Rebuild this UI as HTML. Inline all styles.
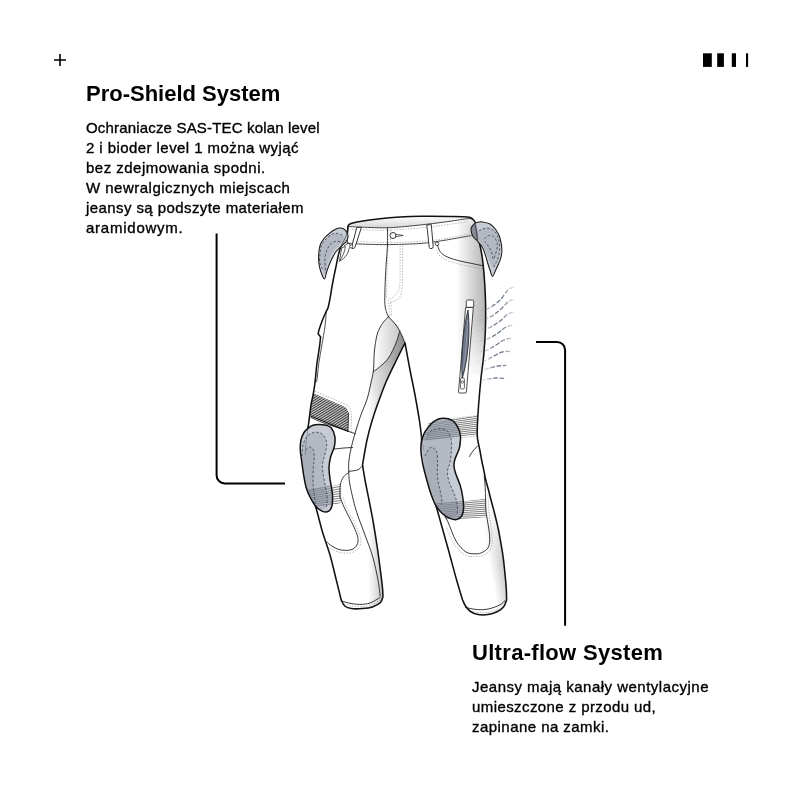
<!DOCTYPE html>
<html><head><meta charset="utf-8">
<style>
html,body{margin:0;padding:0;background:#fff;}
body{width:800px;height:800px;position:relative;overflow:hidden;font-family:"Liberation Sans",sans-serif;color:#000;}
.t{position:absolute;white-space:nowrap;will-change:transform;}
.h{font-weight:bold;font-size:22px;line-height:26px;}
.b{font-size:15px;line-height:19.9px;-webkit-text-stroke:0.35px #000;}
svg{position:absolute;left:0;top:0;}
</style></head><body>
<svg width="800" height="800" viewBox="0 0 800 800">
  <!-- plus -->
  <path d="M54 60H66M60 54V66" stroke="#000" stroke-width="1.6" fill="none"/>
  <!-- bars -->
  <rect x="703" y="53.3" width="8.8" height="13.6" fill="#000"/>
  <rect x="717.2" y="53.3" width="6.7" height="13.6" fill="#000"/>
  <rect x="731.8" y="53.3" width="4.2" height="13.6" fill="#000"/>
  <rect x="746" y="53.3" width="2.1" height="13.6" fill="#000"/>
  <defs><clipPath id="cSil"><path d="M347.8 226.5 C348.17 226.08 347.97 224.82 350 224 C352.03 223.18 355 222.47 360 221.6 C365 220.73 373.33 219.55 380 218.8 C386.67 218.05 393.33 217.52 400 217.1 C406.67 216.68 411.67 216.42 420 216.3 C428.33 216.18 442.08 216.3 450 216.4 C457.92 216.5 463.75 216.5 467.5 216.9 C471.25 217.3 471.15 217.78 472.5 218.8 C473.85 219.82 475.08 222.3 475.6 223 C475.92 225 476.6 230.5 477.5 235 C478.4 239.5 480.05 245 481 250 C481.95 255 482.57 259.17 483.2 265 C483.83 270.83 484.4 278.33 484.8 285 C485.2 291.67 485.5 297.5 485.6 305 C485.7 312.5 485.71 321.67 485.4 330 C485.09 338.33 484.48 347 483.75 355 C483.02 363 481.86 369.67 481 378 C480.14 386.33 479.2 397.17 478.6 405 C478 412.83 477.62 419.83 477.4 425 C477.18 430.17 477.15 433 477.3 436 C477.45 439 478.13 441.83 478.3 443 C478.58 444.33 479.45 448.17 480 451 C480.55 453.83 480.98 456.83 481.6 460 C482.23 463.17 483.06 466.67 483.75 470 C484.44 473.33 484.96 476.67 485.75 480 C486.54 483.33 487.62 486.67 488.5 490 C489.38 493.33 490.13 496.67 491 500 C491.87 503.33 492.83 506.67 493.7 510 C494.57 513.33 495.4 516.67 496.2 520 C497 523.33 497.78 526.5 498.5 530 C499.22 533.5 499.75 536.67 500.5 541 C501.25 545.33 502.28 550.83 503 556 C503.72 561.17 504.25 566.5 504.8 572 C505.35 577.5 506 584.33 506.3 589 C506.6 593.67 506.55 598.17 506.6 600 C506.08 601.17 505.1 605.03 503.5 607 C501.9 608.97 499.58 610.53 497 611.8 C494.42 613.07 491.17 614.13 488 614.6 C484.83 615.07 480.92 615.12 478 614.6 C475.08 614.08 472.58 612.93 470.5 611.5 C468.42 610.07 466.82 607.92 465.5 606 C464.18 604.08 463.08 601 462.6 600 C461.6 596.67 458.87 588 456.6 580 C454.33 572 451.43 560.83 449 552 C446.57 543.17 444.17 534.67 442 527 C439.83 519.33 438 512.17 436 506 C434 499.83 431.83 496 430 490 C428.17 484 426.33 476.67 425 470 C423.67 463.33 422.58 455.42 422 450 C421.42 444.58 421.87 442 421.5 437.5 C421.13 433 420.88 430.08 419.8 423 C418.72 415.92 416.63 403.83 415 395 C413.37 386.17 411.67 378.67 410 370 C408.33 361.33 405.83 347.5 405 343 C403.58 345.83 399.52 353.83 396.5 360 C393.48 366.17 389.8 373.33 386.9 380 C384 386.67 381.53 393.33 379.1 400 C376.67 406.67 374.32 413.33 372.3 420 C370.28 426.67 368.63 432.5 367 440 C365.37 447.5 363.25 460.83 362.5 465 C362.95 467.67 364.12 475.17 365.2 481 C366.28 486.83 367.65 493.08 369 500 C370.35 506.92 371.92 514.58 373.3 522.5 C374.68 530.42 376.18 540 377.3 547.5 C378.42 555 379.17 561.08 380 567.5 C380.83 573.92 381.8 581.21 382.3 586 C382.8 590.79 382.88 594.54 383 596.25 C382.58 597.29 382.25 600.73 380.5 602.5 C378.75 604.27 375.5 605.88 372.5 606.9 C369.5 607.92 366 608.32 362.5 608.6 C359 608.88 354.45 609.03 351.5 608.6 C348.55 608.17 346.52 607.43 344.8 606 C343.08 604.57 341.8 601 341.2 600 C340.38 596.67 338.17 587.5 336.3 580 C334.43 572.5 332.3 563 330 555 C327.7 547 324.78 539.67 322.5 532 C320.22 524.33 318.38 516 316.3 509 C314.22 502 311.88 496.5 310 490 C308.12 483.5 306.08 476.67 305 470 C303.92 463.33 303.42 455.83 303.5 450 C303.58 444.17 304.75 438.75 305.5 435 C306.25 431.25 307.08 432.5 308 427.5 C308.92 422.5 310.15 410.42 311 405 C311.85 399.58 312.43 398.75 313.1 395 C313.77 391.25 314.37 387.71 315 382.5 C315.63 377.29 316.17 369.58 316.9 363.75 C317.63 357.92 318.78 351.98 319.4 347.5 C320.02 343.02 320.4 338.67 320.6 336.9 L318.1 333.75 C318.32 332.92 318.67 331.04 319.4 328.75 C320.13 326.46 321.36 322.92 322.5 320 C323.64 317.08 325.62 312.71 326.25 311.25 C326.56 310.62 327.43 309.88 328.1 307.5 C328.78 305.12 329.72 300.08 330.3 297 C330.88 293.92 331.12 291.83 331.6 289 C332.08 286.17 332.53 283.42 333.2 280 C333.87 276.58 334.78 272.45 335.6 268.5 C336.42 264.55 337.23 259.95 338.1 256.3 C338.97 252.65 339.63 249.53 340.8 246.6 C341.97 243.67 344.02 241.18 345.1 238.75 C346.18 236.32 346.82 234.04 347.3 232 C347.78 229.96 347.88 227.42 348 226.5 Z"/></clipPath><linearGradient id="gEdgeR" x1="0" y1="0" x2="1" y2="0"><stop offset="0" stop-color="#fff" stop-opacity="0"/><stop offset="1" stop-color="#bdbdbd" stop-opacity="1"/></linearGradient><linearGradient id="gEdgeR2" x1="0" y1="0" x2="1" y2="0"><stop offset="0" stop-color="#fff" stop-opacity="0"/><stop offset="1" stop-color="#a8a8a8" stop-opacity="1"/></linearGradient><linearGradient id="gWaist" x1="0" y1="0" x2="0" y2="1"><stop offset="0" stop-color="#fff"/><stop offset="1" stop-color="#d6d6d6"/></linearGradient><linearGradient id="gGus" x1="0" y1="0" x2="1" y2="0"><stop offset="0" stop-color="#e6e6e6"/><stop offset="1" stop-color="#8c8c8c"/></linearGradient><linearGradient id="gCr" x1="0" y1="0" x2="1" y2="0"><stop offset="0" stop-color="#fff"/><stop offset="1" stop-color="#c8c8c8"/></linearGradient><linearGradient id="gPad" x1="0" y1="0" x2="1" y2="0"><stop offset="0" stop-color="#aeb3be"/><stop offset="1" stop-color="#c3c7d0"/></linearGradient><linearGradient id="sg1" gradientUnits="userSpaceOnUse" x1="456" y1="0" x2="486" y2="0"><stop offset="0" stop-color="#b2b2b2" stop-opacity="0"/><stop offset="1" stop-color="#b2b2b2" stop-opacity="1"/></linearGradient><linearGradient id="sv1" gradientUnits="userSpaceOnUse" x1="0" y1="214" x2="0" y2="380"><stop offset="0" stop-color="#fff" stop-opacity="0"/><stop offset="0.072" stop-color="#fff" stop-opacity="1"/><stop offset="0.639" stop-color="#fff" stop-opacity="1"/><stop offset="1" stop-color="#fff" stop-opacity="0"/></linearGradient><mask id="sm1" maskUnits="userSpaceOnUse" x="0" y="0" width="800" height="800"><rect x="0" y="0" width="800" height="800" fill="url(#sv1)"/></mask><linearGradient id="sg2" gradientUnits="userSpaceOnUse" x1="485.5" y1="545" x2="501.5" y2="542"><stop offset="0" stop-color="#c2c2c2" stop-opacity="0"/><stop offset="1" stop-color="#c2c2c2" stop-opacity="1"/></linearGradient><linearGradient id="sv2" gradientUnits="userSpaceOnUse" x1="0" y1="505" x2="0" y2="616"><stop offset="0" stop-color="#fff" stop-opacity="0"/><stop offset="0.541" stop-color="#fff" stop-opacity="1"/><stop offset="0.991" stop-color="#fff" stop-opacity="1"/><stop offset="1" stop-color="#fff" stop-opacity="0"/></linearGradient><mask id="sm2" maskUnits="userSpaceOnUse" x="0" y="0" width="800" height="800"><rect x="0" y="0" width="800" height="800" fill="url(#sv2)"/></mask><linearGradient id="sg3" gradientUnits="userSpaceOnUse" x1="352" y1="0" x2="376" y2="-3"><stop offset="0" stop-color="#b4b4b4" stop-opacity="0"/><stop offset="1" stop-color="#b4b4b4" stop-opacity="1"/></linearGradient><linearGradient id="sv3" gradientUnits="userSpaceOnUse" x1="0" y1="505" x2="0" y2="612"><stop offset="0" stop-color="#fff" stop-opacity="0"/><stop offset="0.561" stop-color="#fff" stop-opacity="1"/><stop offset="0.991" stop-color="#fff" stop-opacity="1"/><stop offset="1" stop-color="#fff" stop-opacity="0"/></linearGradient><mask id="sm3" maskUnits="userSpaceOnUse" x="0" y="0" width="800" height="800"><rect x="0" y="0" width="800" height="800" fill="url(#sv3)"/></mask><linearGradient id="sg4" gradientUnits="userSpaceOnUse" x1="368" y1="0" x2="383" y2="0"><stop offset="0" stop-color="#c4c4c4" stop-opacity="0"/><stop offset="1" stop-color="#c4c4c4" stop-opacity="1"/></linearGradient><linearGradient id="sv4" gradientUnits="userSpaceOnUse" x1="0" y1="470" x2="0" y2="612"><stop offset="0" stop-color="#fff" stop-opacity="0"/><stop offset="0.493" stop-color="#fff" stop-opacity="1"/><stop offset="0.993" stop-color="#fff" stop-opacity="1"/><stop offset="1" stop-color="#fff" stop-opacity="0"/></linearGradient><mask id="sm4" maskUnits="userSpaceOnUse" x="0" y="0" width="800" height="800"><rect x="0" y="0" width="800" height="800" fill="url(#sv4)"/></mask><linearGradient id="sg5" gradientUnits="userSpaceOnUse" x1="368" y1="0" x2="388" y2="0"><stop offset="0" stop-color="#c4c4c4" stop-opacity="0"/><stop offset="1" stop-color="#c4c4c4" stop-opacity="1"/></linearGradient><linearGradient id="sv5" gradientUnits="userSpaceOnUse" x1="0" y1="362" x2="0" y2="475"><stop offset="0" stop-color="#fff" stop-opacity="0"/><stop offset="0.204" stop-color="#fff" stop-opacity="1"/><stop offset="0.602" stop-color="#fff" stop-opacity="1"/><stop offset="1" stop-color="#fff" stop-opacity="0"/></linearGradient><mask id="sm5" maskUnits="userSpaceOnUse" x="0" y="0" width="800" height="800"><rect x="0" y="0" width="800" height="800" fill="url(#sv5)"/></mask><linearGradient id="gGusV" gradientUnits="userSpaceOnUse" x1="0" y1="330" x2="0" y2="400"><stop offset="0" stop-color="#fff"/><stop offset="0.45" stop-color="#fff"/><stop offset="1" stop-color="#fff" stop-opacity="0"/></linearGradient><mask id="mGus" maskUnits="userSpaceOnUse" x="0" y="0" width="800" height="800"><rect x="0" y="0" width="800" height="800" fill="url(#gGusV)"/></mask><clipPath id="cLR"><path d="M309 391.6 C309.9 391.97 308.9 391.47 314.4 393.8 C319.9 396.13 337.4 403.63 342 405.6 C342.75 406.03 345.4 406.97 346.5 408.2 C347.6 409.43 348.25 412.2 348.6 413 C348.5 416.05 348.1 428.25 348 431.3 C341.87 428.8 317.87 419.02 311.2 416.3 C304.53 413.58 308.53 415.22 308 415 Z"/></clipPath><clipPath id="cRU"><path d="M430 419 L451 419 L477.4 415.6 L477.3 434.5 L456 437.2 L423 441 Z"/></clipPath><clipPath id="cRL"><path d="M436 503.5 L462 501.5 L485.7 498.8 L486.4 517 L462 519.3 L446 519 Z"/></clipPath><clipPath id="cLL"><path d="M306 490 L332 486 L341 484 L341.5 503 L332 505 L306 507 Z"/></clipPath><clipPath id="cLH"><path d="M348.1 236.3 C348.1 234.63 347.43 232.67 346.3 231.3 C345.17 229.93 343.18 228.42 341.3 228.1 C339.42 227.78 337.08 228.45 335 229.4 C332.92 230.35 330.67 232.23 328.8 233.8 C326.93 235.37 325.23 236.93 323.8 238.8 C322.37 240.67 321.03 242.63 320.2 245 C319.37 247.37 319.03 250.08 318.8 253 C318.57 255.92 318.5 259.5 318.8 262.5 C319.1 265.5 319.67 268.25 320.6 271 C321.53 273.75 323.35 279 324.4 279 C325.45 279 325.75 274.17 326.9 271 C328.05 267.83 329.73 263.28 331.3 260 C332.87 256.72 334.63 253.58 336.3 251.3 C337.97 249.02 339.63 247.97 341.3 246.3 C342.97 244.63 345.17 242.97 346.3 241.3 C347.43 239.63 348.1 237.97 348.1 236.3 Z"/></clipPath><clipPath id="cRH"><path d="M471 229 C471.08 227 472.42 225.62 473.5 224.5 C474.58 223.38 476 222.73 477.5 222.3 C479 221.87 480.42 221.62 482.5 221.9 C484.58 222.18 487.75 222.65 490 224 C492.25 225.35 494.33 227.67 496 230 C497.67 232.33 499.02 234.67 500 238 C500.98 241.33 501.77 246.67 501.9 250 C502.03 253.33 501.37 255.67 500.8 258 C500.23 260.33 499.38 261.92 498.5 264 C497.62 266.08 496.5 268.42 495.5 270.5 C494.5 272.58 493.42 276.58 492.5 276.5 C491.58 276.42 490.83 272.33 490 270 C489.17 267.67 488.33 265.17 487.5 262.5 C486.67 259.83 485.83 256.5 485 254 C484.17 251.5 483.75 249.67 482.5 247.5 C481.25 245.33 479.08 242.83 477.5 241 C475.92 239.17 474.08 238.5 473 236.5 C471.92 234.5 470.92 231 471 229 Z"/></clipPath><clipPath id="cLK"><path d="M318.8 424.4 C320.97 424.38 323.92 424.6 326 425.2 C328.08 425.8 329.83 426.15 331.3 428 C332.77 429.85 334.28 433.25 334.8 436.3 C335.32 439.35 335.1 442.85 334.4 446.3 C333.7 449.75 331.5 453.47 330.6 457 C329.7 460.53 329.1 463.87 329 467.5 C328.9 471.13 329.43 474.38 330 478.8 C330.57 483.22 332.07 489.55 332.4 494 C332.73 498.45 332.6 502.63 332 505.5 C331.4 508.37 330.38 510.22 328.8 511.2 C327.22 512.18 324.72 512.27 322.5 511.4 C320.28 510.53 317.58 508.4 315.5 506 C313.42 503.6 311.53 500 310 497 C308.47 494 307.33 491.5 306.3 488 C305.27 484.5 304.55 480.33 303.8 476 C303.05 471.67 302.38 466.33 301.8 462 C301.22 457.67 300.43 453.67 300.3 450 C300.17 446.33 300.38 442.92 301 440 C301.62 437.08 302.83 434.45 304 432.5 C305.17 430.55 306.5 429.5 308 428.3 C309.5 427.1 311.2 425.95 313 425.3 C314.8 424.65 316.63 424.42 318.8 424.4 Z"/></clipPath><clipPath id="cRK"><path d="M442.5 418.2 C445.47 418.07 449.62 418.73 452.2 420.3 C454.78 421.87 456.63 425.03 458 427.6 C459.37 430.17 460.13 432.45 460.4 435.7 C460.67 438.95 460.17 444.05 459.6 447.1 C459.03 450.15 457.82 451.83 457 454 C456.18 456.17 455.2 458.1 454.7 460.1 C454.2 462.1 453.87 463.83 454 466 C454.13 468.17 454.43 469.75 455.5 473.1 C456.57 476.45 459.18 482.03 460.4 486.1 C461.62 490.17 462.27 493.98 462.8 497.5 C463.33 501.02 463.73 504.22 463.6 507.2 C463.47 510.18 463.08 513.37 462 515.4 C460.92 517.43 459 518.87 457.1 519.4 C455.2 519.93 453.03 519.55 450.6 518.6 C448.17 517.65 444.93 515.87 442.5 513.7 C440.07 511.53 437.9 508.85 436 505.6 C434.1 502.35 432.73 498.8 431.1 494.2 C429.48 489.6 427.6 482.87 426.25 478 C424.9 473.13 423.88 469.33 423 465 C422.12 460.67 421.27 455.8 421 452 C420.73 448.2 420.93 445.18 421.4 442.2 C421.87 439.22 422.72 436.53 423.8 434.1 C424.88 431.67 426.13 429.77 427.9 427.6 C429.67 425.43 431.97 422.67 434.4 421.1 C436.83 419.53 439.53 418.33 442.5 418.2 Z"/></clipPath><linearGradient id="gWind" x1="462" y1="0" x2="516" y2="0" gradientUnits="userSpaceOnUse"><stop offset="0.2" stop-color="#fff" stop-opacity="0"/><stop offset="0.35" stop-color="#fff" stop-opacity="0.12"/><stop offset="0.47" stop-color="#fff" stop-opacity="0.4"/><stop offset="0.58" stop-color="#fff" stop-opacity="1"/><stop offset="0.75" stop-color="#fff" stop-opacity="1"/><stop offset="1" stop-color="#fff" stop-opacity="0.05"/></linearGradient><mask id="mWind"><rect x="440" y="270" width="90" height="130" fill="url(#gWind)"/></mask></defs><path d="M347.8 226.5 C348.17 226.08 347.97 224.82 350 224 C352.03 223.18 355 222.47 360 221.6 C365 220.73 373.33 219.55 380 218.8 C386.67 218.05 393.33 217.52 400 217.1 C406.67 216.68 411.67 216.42 420 216.3 C428.33 216.18 442.08 216.3 450 216.4 C457.92 216.5 463.75 216.5 467.5 216.9 C471.25 217.3 471.15 217.78 472.5 218.8 C473.85 219.82 475.08 222.3 475.6 223 C475.92 225 476.6 230.5 477.5 235 C478.4 239.5 480.05 245 481 250 C481.95 255 482.57 259.17 483.2 265 C483.83 270.83 484.4 278.33 484.8 285 C485.2 291.67 485.5 297.5 485.6 305 C485.7 312.5 485.71 321.67 485.4 330 C485.09 338.33 484.48 347 483.75 355 C483.02 363 481.86 369.67 481 378 C480.14 386.33 479.2 397.17 478.6 405 C478 412.83 477.62 419.83 477.4 425 C477.18 430.17 477.15 433 477.3 436 C477.45 439 478.13 441.83 478.3 443 C478.58 444.33 479.45 448.17 480 451 C480.55 453.83 480.98 456.83 481.6 460 C482.23 463.17 483.06 466.67 483.75 470 C484.44 473.33 484.96 476.67 485.75 480 C486.54 483.33 487.62 486.67 488.5 490 C489.38 493.33 490.13 496.67 491 500 C491.87 503.33 492.83 506.67 493.7 510 C494.57 513.33 495.4 516.67 496.2 520 C497 523.33 497.78 526.5 498.5 530 C499.22 533.5 499.75 536.67 500.5 541 C501.25 545.33 502.28 550.83 503 556 C503.72 561.17 504.25 566.5 504.8 572 C505.35 577.5 506 584.33 506.3 589 C506.6 593.67 506.55 598.17 506.6 600 C506.08 601.17 505.1 605.03 503.5 607 C501.9 608.97 499.58 610.53 497 611.8 C494.42 613.07 491.17 614.13 488 614.6 C484.83 615.07 480.92 615.12 478 614.6 C475.08 614.08 472.58 612.93 470.5 611.5 C468.42 610.07 466.82 607.92 465.5 606 C464.18 604.08 463.08 601 462.6 600 C461.6 596.67 458.87 588 456.6 580 C454.33 572 451.43 560.83 449 552 C446.57 543.17 444.17 534.67 442 527 C439.83 519.33 438 512.17 436 506 C434 499.83 431.83 496 430 490 C428.17 484 426.33 476.67 425 470 C423.67 463.33 422.58 455.42 422 450 C421.42 444.58 421.87 442 421.5 437.5 C421.13 433 420.88 430.08 419.8 423 C418.72 415.92 416.63 403.83 415 395 C413.37 386.17 411.67 378.67 410 370 C408.33 361.33 405.83 347.5 405 343 C403.58 345.83 399.52 353.83 396.5 360 C393.48 366.17 389.8 373.33 386.9 380 C384 386.67 381.53 393.33 379.1 400 C376.67 406.67 374.32 413.33 372.3 420 C370.28 426.67 368.63 432.5 367 440 C365.37 447.5 363.25 460.83 362.5 465 C362.95 467.67 364.12 475.17 365.2 481 C366.28 486.83 367.65 493.08 369 500 C370.35 506.92 371.92 514.58 373.3 522.5 C374.68 530.42 376.18 540 377.3 547.5 C378.42 555 379.17 561.08 380 567.5 C380.83 573.92 381.8 581.21 382.3 586 C382.8 590.79 382.88 594.54 383 596.25 C382.58 597.29 382.25 600.73 380.5 602.5 C378.75 604.27 375.5 605.88 372.5 606.9 C369.5 607.92 366 608.32 362.5 608.6 C359 608.88 354.45 609.03 351.5 608.6 C348.55 608.17 346.52 607.43 344.8 606 C343.08 604.57 341.8 601 341.2 600 C340.38 596.67 338.17 587.5 336.3 580 C334.43 572.5 332.3 563 330 555 C327.7 547 324.78 539.67 322.5 532 C320.22 524.33 318.38 516 316.3 509 C314.22 502 311.88 496.5 310 490 C308.12 483.5 306.08 476.67 305 470 C303.92 463.33 303.42 455.83 303.5 450 C303.58 444.17 304.75 438.75 305.5 435 C306.25 431.25 307.08 432.5 308 427.5 C308.92 422.5 310.15 410.42 311 405 C311.85 399.58 312.43 398.75 313.1 395 C313.77 391.25 314.37 387.71 315 382.5 C315.63 377.29 316.17 369.58 316.9 363.75 C317.63 357.92 318.78 351.98 319.4 347.5 C320.02 343.02 320.4 338.67 320.6 336.9 L318.1 333.75 C318.32 332.92 318.67 331.04 319.4 328.75 C320.13 326.46 321.36 322.92 322.5 320 C323.64 317.08 325.62 312.71 326.25 311.25 C326.56 310.62 327.43 309.88 328.1 307.5 C328.78 305.12 329.72 300.08 330.3 297 C330.88 293.92 331.12 291.83 331.6 289 C332.08 286.17 332.53 283.42 333.2 280 C333.87 276.58 334.78 272.45 335.6 268.5 C336.42 264.55 337.23 259.95 338.1 256.3 C338.97 252.65 339.63 249.53 340.8 246.6 C341.97 243.67 344.02 241.18 345.1 238.75 C346.18 236.32 346.82 234.04 347.3 232 C347.78 229.96 347.88 227.42 348 226.5 Z" fill="#fff"/><g clip-path="url(#cSil)"><path d="M440 215 L490 215 L492 420 L440 420 Z" fill="url(#sg1)" mask="url(#sm1)"/><path d="M470 460 L512 460 L512 616 L470 616 Z" fill="url(#sg2)" mask="url(#sm2)"/><path d="M345 480 L400 480 L400 612 L345 612 Z" fill="url(#sg3)" mask="url(#sm3)"/><path d="M360 450 L400 450 L400 612 L360 612 Z" fill="url(#sg4)" mask="url(#sm4)"/><path d="M360 360 L400 360 L400 480 L360 480 Z" fill="url(#sg5)" mask="url(#sm5)"/></g><path d="M347.8 226.5 C348.17 226.08 347.97 224.82 350 224 C352.03 223.18 355 222.47 360 221.6 C365 220.73 373.33 219.55 380 218.8 C386.67 218.05 393.33 217.52 400 217.1 C406.67 216.68 411.67 216.42 420 216.3 C428.33 216.18 442.08 216.3 450 216.4 C457.92 216.5 463.75 216.5 467.5 216.9 C471.25 217.3 471.67 218.48 472.5 218.8 L472 219.5 C471.25 219.37 472 218.28 467.5 218.7 C463 219.12 452.92 220.95 445 222 C437.08 223.05 427.5 224.17 420 225 C412.5 225.83 405.5 226.53 400 227 C394.5 227.47 392 227.72 387 227.8 C382 227.88 376.33 227.7 370 227.5 C363.67 227.3 352.5 226.75 349 226.6 Z" fill="url(#gWaist)"/><path d="M388.5 316.8 C387.5 317.92 384.37 320.63 382.5 323.5 C380.63 326.37 378.67 329.25 377.3 334 C375.93 338.75 374.93 345.75 374.3 352 C373.67 358.25 373.63 368.25 373.5 371.5 C374.5 370.75 377 369.25 379.5 367 C382 364.75 385.75 362 388.5 358 C391.25 354 394.12 347.5 396 343 C397.88 338.5 399.17 333 399.8 331 C399.17 330 397.88 327.37 396 325 C394.12 322.63 389.75 318.17 388.5 316.8 Z" fill="url(#gCr)"/><path d="M399.8 331 C399.17 333 397.88 338.5 396 343 C394.12 347.5 391.25 354 388.5 358 C385.75 362 382 364.75 379.5 367 C377 369.25 374.5 370.75 373.5 371.5 C373.08 373.75 371.92 380.25 371 385 C370.08 389.75 366.65 397.5 368 400 C369.35 402.5 375.95 403.33 379.1 400 C382.25 396.67 384 386.67 386.9 380 C389.8 373.33 393.48 366.17 396.5 360 C399.52 353.83 403.58 345.83 405 343 C404.25 341.25 401.37 334.5 400.5 332.5 C399.63 330.5 399.92 331.25 399.8 331 Z" fill="url(#gGus)" mask="url(#mGus)"/><g clip-path="url(#cSil)"><path d="M309 391.6 C309.9 391.97 308.9 391.47 314.4 393.8 C319.9 396.13 337.4 403.63 342 405.6 C342.75 406.03 345.4 406.97 346.5 408.2 C347.6 409.43 348.25 412.2 348.6 413 C348.5 416.05 348.1 428.25 348 431.3 C341.87 428.8 317.87 419.02 311.2 416.3 C304.53 413.58 308.53 415.22 308 415 Z" fill="#fff"/><g clip-path="url(#cLR)" stroke="#000" stroke-width="0.8" fill="none" ><path d="M300 387.8 L360 413.5"/><path d="M300 389.51 L360 415.12"/><path d="M300 391.21 L360 416.74"/><path d="M300 392.92 L360 418.36"/><path d="M300 394.63 L360 419.99"/><path d="M300 396.34 L360 421.61"/><path d="M300 398.04 L360 423.23"/><path d="M300 399.75 L360 424.85"/><path d="M300 401.46 L360 426.47"/><path d="M300 403.16 L360 428.09"/><path d="M300 404.87 L360 429.71"/><path d="M300 406.58 L360 431.34"/><path d="M300 408.29 L360 432.96"/><path d="M300 409.99 L360 434.58"/><path d="M300 411.7 L360 436.2"/></g><g clip-path="url(#cRU)" stroke="#2a2a2a" stroke-width="0.6" fill="none" ><path d="M418 425.2 L480 415.9"/><path d="M418 426.9 L480 417.87"/><path d="M418 428.6 L480 419.83"/><path d="M418 430.3 L480 421.8"/><path d="M418 432 L480 423.77"/><path d="M418 433.7 L480 425.73"/><path d="M418 435.4 L480 427.7"/><path d="M418 437.1 L480 429.67"/><path d="M418 438.8 L480 431.63"/><path d="M418 440.5 L480 433.6"/></g><g clip-path="url(#cRL)" stroke="#2a2a2a" stroke-width="0.6" fill="none" ><path d="M430 504.5 L492 498.5"/><path d="M430 506.17 L492 500.56"/><path d="M430 507.83 L492 502.61"/><path d="M430 509.5 L492 504.67"/><path d="M430 511.17 L492 506.72"/><path d="M430 512.83 L492 508.78"/><path d="M430 514.5 L492 510.83"/><path d="M430 516.17 L492 512.89"/><path d="M430 517.83 L492 514.94"/><path d="M430 519.5 L492 517"/></g><g clip-path="url(#cLL)" stroke="#2a2a2a" stroke-width="0.6" fill="none" ><path d="M305 491.1 L345 483.1"/><path d="M305 493.04 L345 485.54"/><path d="M305 494.98 L345 487.98"/><path d="M305 496.91 L345 490.41"/><path d="M305 498.85 L345 492.85"/><path d="M305 500.79 L345 495.29"/><path d="M305 502.73 L345 497.73"/><path d="M305 504.66 L345 500.16"/><path d="M305 506.6 L345 502.6"/></g></g><path d="M352 229.5 C355 229.58 364.17 229.88 370 230 C375.83 230.12 378.67 230.53 387 230.2 C395.33 229.87 410.33 228.87 420 228 C429.67 227.13 437 226.08 445 225 C453 223.92 464.17 222.08 468 221.5" stroke="#8a8a8a" stroke-width="0.6" fill="none" stroke-dasharray="1.4 1.4"/><path d="M352 241.3 C355 241.42 364.17 241.78 370 242 C375.83 242.22 378.67 242.68 387 242.6 C395.33 242.52 410.33 242.17 420 241.5 C429.67 240.83 436.67 239.88 445 238.6 C453.33 237.32 465.83 234.6 470 233.8" stroke="#8a8a8a" stroke-width="0.6" fill="none" stroke-dasharray="1.4 1.4"/><path d="M402.6 245.5 C402.58 249.58 402.57 263.25 402.5 270 C402.43 276.75 402.62 281.58 402.2 286 C401.78 290.42 401.37 293.92 400 296.5 C398.63 299.08 395.8 300.5 394 301.5 C392.2 302.5 390 302.33 389.2 302.5" stroke="#8a8a8a" stroke-width="0.6" fill="none" stroke-dasharray="1.4 1.4"/><path d="M400.2 245.5 C400.18 249.58 400.17 263.58 400.1 270 C400.03 276.42 400.22 280.25 399.8 284 C399.38 287.75 398.9 290.2 397.6 292.5 C396.3 294.8 393.6 296.72 392 297.8 C390.4 298.88 388.67 298.8 388 299" stroke="#8a8a8a" stroke-width="0.6" fill="none" stroke-dasharray="1.4 1.4"/><path d="M387.9 246 C387.78 250 387.42 261.33 387.2 270 C386.98 278.67 386.7 293.33 386.6 298" stroke="#8a8a8a" stroke-width="0.6" fill="none" stroke-dasharray="1.4 1.4"/><path d="M388.6 300 C388.73 302.67 389.27 313.33 389.4 316" stroke="#8a8a8a" stroke-width="0.6" fill="none" stroke-dasharray="1.4 1.4"/><path d="M390.8 302.5 C390.93 304.75 391.47 313.75 391.6 316" stroke="#8a8a8a" stroke-width="0.6" fill="none" stroke-dasharray="1.4 1.4"/><path d="M390.5 230 L390.5 242" stroke="#8a8a8a" stroke-width="0.6" fill="none" stroke-dasharray="1.4 1.4"/><path d="M436.5 250 C437.08 251 438.25 254.25 440 256 C441.75 257.75 444 259.2 447 260.5 C450 261.8 453.83 262.75 458 263.8 C462.17 264.85 467.83 265.97 472 266.8 C476.17 267.63 481.17 268.47 483 268.8" stroke="#8a8a8a" stroke-width="0.6" fill="none" stroke-dasharray="1.4 1.4"/><path d="M343 497 C343.67 498.83 344.83 503.17 347 508 C349.17 512.83 353.75 521 356 526 C358.25 531 359.92 534.5 360.5 538 C361.08 541.5 360.92 544.58 359.5 547 C358.08 549.42 355.25 551.58 352 552.5 C348.75 553.42 343.83 553.25 340 552.5 C336.17 551.75 330.83 548.75 329 548" stroke="#8a8a8a" stroke-width="0.6" fill="none" stroke-dasharray="1.4 1.4"/><path d="M344 604 C345.33 604.33 349 605.57 352 606 C355 606.43 358.67 606.77 362 606.6 C365.33 606.43 369 606.1 372 605 C375 603.9 378.67 600.83 380 600" stroke="#8a8a8a" stroke-width="0.6" fill="none" stroke-dasharray="1.4 1.4"/><path d="M488 495 C488.07 496.67 488.18 501.67 488.4 505 C488.62 508.33 488.9 511.67 489.3 515 C489.7 518.33 490.37 521.83 490.8 525 C491.23 528.17 491.67 531.33 491.9 534 C492.13 536.67 492.52 538.33 492.2 541 C491.88 543.67 491.53 547.62 490 550 C488.47 552.38 485.33 554.22 483 555.3 C480.67 556.38 479 556.55 476 556.5 C473 556.45 468.67 557.08 465 555 C461.33 552.92 457.17 548.83 454 544 C450.83 539.17 447.33 529 446 526" stroke="#8a8a8a" stroke-width="0.6" fill="none" stroke-dasharray="1.4 1.4"/><path d="M469 611 C470.67 611.27 475.5 612.43 479 612.6 C482.5 612.77 486.5 612.73 490 612 C493.5 611.27 498.33 608.83 500 608.2" stroke="#8a8a8a" stroke-width="0.6" fill="none" stroke-dasharray="1.4 1.4"/><path d="M451 418.8 C453.33 418.5 460.62 417.55 465 417 C469.38 416.45 475.25 415.75 477.3 415.5" stroke="#8a8a8a" stroke-width="0.6" fill="none" stroke-dasharray="1.4 1.4"/><path d="M456 438.2 C457.67 438.05 462.47 437.67 466 437.3 C469.53 436.93 475.33 436.22 477.2 436" stroke="#8a8a8a" stroke-width="0.6" fill="none" stroke-dasharray="1.4 1.4"/><path d="M315 391.2 C319.67 393.22 337.33 400.67 343 403.3 C348.67 405.93 347.62 405.22 349 407 C350.38 408.78 350.97 409.75 351.3 414 C351.63 418.25 351.05 429.42 351 432.5" stroke="#888" stroke-width="0.65" fill="none" stroke-dasharray="1.4 1.4"/><path d="M349 226.6 C352.5 226.75 363.67 227.3 370 227.5 C376.33 227.7 382 227.88 387 227.8 C392 227.72 394.5 227.47 400 227 C405.5 226.53 412.5 225.83 420 225 C427.5 224.17 437.08 223.05 445 222 C452.92 220.95 463 219.12 467.5 218.7 C472 218.28 471.25 219.37 472 219.5" stroke="#333" stroke-width="0.9" fill="none" stroke-linecap="round" stroke-linejoin="round"/><path d="M347 243 C349.17 243.17 353.33 243.73 360 244 C366.67 244.27 377 244.68 387 244.6 C397 244.52 411.17 244.1 420 243.5 C428.83 242.9 434.17 241.83 440 241 C445.83 240.17 449.78 239.4 455 238.5 C460.22 237.6 468.58 236.08 471.3 235.6" stroke="#333" stroke-width="0.9" fill="none" stroke-linecap="round" stroke-linejoin="round"/><path d="M348 226.5 L347.3 243" stroke="#222" stroke-width="0.8" fill="none" stroke-linecap="round" stroke-linejoin="round"/><path d="M387.5 227.8 C387.5 230.67 387.7 239.3 387.5 245 C387.3 250.7 386.67 256.17 386.3 262 C385.93 267.83 385.55 273.25 385.3 280 C385.05 286.75 384.63 297.25 384.8 302.5 C384.97 307.75 385.68 309.12 386.3 311.5 C386.92 313.88 388.13 315.92 388.5 316.8" stroke="#222" stroke-width="0.9" fill="none" stroke-linecap="round" stroke-linejoin="round"/><circle cx="393" cy="235.5" r="3" fill="#fff" stroke="#222" stroke-width="0.9"/><path d="M395.8 234.4 L403.2 235.4 L395.8 236.6 Z" fill="#fff" stroke="#222" stroke-width="0.7" stroke-linejoin="round"/><path d="M356.8 227.5 L361.4 227.3 L355 247.3 Q354 249 352.2 248.5 L351.5 247.6 Z" fill="#fff" stroke="#222" stroke-width="0.9"/><path d="M426.8 225 L431.3 224.6 L433.2 246.8 Q433 248.6 431 248.7 Q429.4 248.7 429.2 247.2 Z" fill="#fff" stroke="#222" stroke-width="0.9"/><circle cx="437" cy="243.8" r="1.8" fill="#fff" stroke="#222" stroke-width="0.8"/><circle cx="351.3" cy="246.4" r="1.6" fill="#fff" stroke="#222" stroke-width="0.8"/><path d="M437.6 245.5 C437.92 246.33 438.6 249 439.5 250.5 C440.4 252 441.25 253.25 443 254.5 C444.75 255.75 447.17 256.92 450 258 C452.83 259.08 456.33 260.08 460 261 C463.67 261.92 468.17 262.7 472 263.5 C475.83 264.3 481.17 265.42 483 265.8" stroke="#222" stroke-width="0.9" fill="none" stroke-linecap="round" stroke-linejoin="round"/><path d="M349.3 247.8 C349 248.75 348.47 251.72 347.5 253.5 C346.53 255.28 344.92 257.17 343.5 258.5 C342.08 259.83 339.75 261 339 261.5" stroke="#222" stroke-width="0.8" fill="none" stroke-linecap="round" stroke-linejoin="round"/><path d="M344.3 245.8 C345.02 245.35 347.73 243.32 348.6 243.1 C349.47 242.88 349.35 244.27 349.5 244.5" stroke="#222" stroke-width="0.8" fill="none" stroke-linecap="round" stroke-linejoin="round"/><path d="M341.8 247.6 L345.4 246.6 C344.8 251.5 342.8 256.5 339.6 260.6 Z" fill="#fff" stroke="#222" stroke-width="0.75" stroke-linejoin="round"/><path d="M326.25 312.5 C326.04 314.79 325.73 320.83 325 326.25 C324.27 331.67 322.94 338.75 321.9 345 C320.86 351.25 319.58 357.92 318.75 363.75 C317.92 369.58 317.52 376.88 316.9 380 C316.27 383.12 315.32 382.08 315 382.5" stroke="#222" stroke-width="0.8" fill="none" stroke-linecap="round" stroke-linejoin="round"/><path d="M388.5 316.8 C387.5 317.92 384.37 320.63 382.5 323.5 C380.63 326.37 378.67 329.25 377.3 334 C375.93 338.75 374.93 346 374.3 352 C373.67 358 374.13 364.5 373.5 370 C372.87 375.5 371.62 380 370.5 385 C369.38 390 368.55 394.58 366.8 400 C365.05 405.42 362.38 410.42 360 417.5 C357.62 424.58 354.33 435.42 352.5 442.5 C350.67 449.58 349.62 455 349 460 C348.38 465 348.63 468.33 348.8 472.5 C348.97 476.67 348.8 478.75 350 485 C351.2 491.25 353.5 501.67 356 510 C358.5 518.33 362.25 527.33 365 535 C367.75 542.67 370.33 548.5 372.5 556 C374.67 563.5 376.72 573.33 378 580 C379.28 586.67 379.83 593.33 380.2 596" stroke="#222" stroke-width="0.9" fill="none" stroke-linecap="round" stroke-linejoin="round"/><path d="M388.5 316.8 C389.75 318.17 394 322.38 396 325 C398 327.62 399 329.5 400.5 332.5 C402 335.5 404.25 341.25 405 343" stroke="#222" stroke-width="1.0" fill="none" stroke-linecap="round" stroke-linejoin="round"/><path d="M399.8 331 C399.17 333 397.88 338.5 396 343 C394.12 347.5 391.25 354 388.5 358 C385.75 362 382 364.75 379.5 367 C377 369.25 374.5 370.75 373.5 371.5" stroke="#222" stroke-width="0.9" fill="none" stroke-linecap="round" stroke-linejoin="round"/><path d="M311 417.5 C312.92 418.33 317.67 420.67 322.5 422.5 C327.33 424.33 334.5 426.62 340 428.5 C345.5 430.38 352.92 432.92 355.5 433.8" stroke="#222" stroke-width="0.9" fill="none" stroke-linecap="round" stroke-linejoin="round"/><path d="M334.5 449 C336.08 448.83 341 448.25 344 448 C347 447.75 351.08 447.58 352.5 447.5" stroke="#222" stroke-width="0.9" fill="none" stroke-linecap="round" stroke-linejoin="round"/><path d="M348.8 471.3 C350.25 471.08 355.25 470.88 357.5 470 C359.75 469.12 361.5 466.67 362.3 466" stroke="#222" stroke-width="0.9" fill="none" stroke-linecap="round" stroke-linejoin="round"/><path d="M340 497 C340.75 498.83 342.25 503.17 344.5 508 C346.75 512.83 351.28 521.08 353.5 526 C355.72 530.92 357.22 534.33 357.8 537.5 C358.38 540.67 358.13 542.95 357 545 C355.87 547.05 353.83 549 351 549.8 C348.17 550.6 343.33 550.52 340 549.8 C336.67 549.08 333.17 546.8 331 545.5 C328.83 544.2 327.67 542.58 327 542" stroke="#222" stroke-width="0.9" fill="none" stroke-linecap="round" stroke-linejoin="round"/><path d="M340 497 C340.05 495 339.72 488.33 340.3 485 C340.88 481.67 342.08 479.08 343.5 477 C344.92 474.92 347.92 473.25 348.8 472.5" stroke="#222" stroke-width="0.9" fill="none" stroke-linecap="round" stroke-linejoin="round"/><path d="M342.5 601.3 C343.92 601.67 348.08 602.98 351 603.5 C353.92 604.02 356.83 604.48 360 604.4 C363.17 604.32 366.67 604.15 370 603 C373.33 601.85 378.33 598.42 380 597.5" stroke="#222" stroke-width="0.9" fill="none" stroke-linecap="round" stroke-linejoin="round"/><path d="M469.4 456.5 C470 455.58 471.65 452.75 473 451 C474.35 449.25 476.75 446.83 477.5 446" stroke="#222" stroke-width="0.9" fill="none" stroke-linecap="round" stroke-linejoin="round"/><path d="M484.2 476 C484.32 477.17 484.72 480.67 484.9 483 C485.08 485.33 485.18 487.17 485.3 490 C485.42 492.83 485.5 496.67 485.6 500 C485.7 503.33 485.62 506.67 485.9 510 C486.18 513.33 486.78 516.67 487.3 520 C487.82 523.33 488.58 526.67 489 530 C489.42 533.33 489.97 537 489.8 540 C489.63 543 489.3 545.92 488 548 C486.7 550.08 484 551.53 482 552.5 C480 553.47 478.67 553.88 476 553.8 C473.33 553.72 469.33 554.13 466 552 C462.67 549.87 459 546 456 541 C453 536 450.17 526.67 448 522 C445.83 517.33 443.83 514.5 443 513" stroke="#222" stroke-width="0.9" fill="none" stroke-linecap="round" stroke-linejoin="round"/><path d="M465.5 607.6 C467.5 607.93 473.62 609.38 477.5 609.6 C481.38 609.82 485.05 609.7 488.8 608.9 C492.55 608.1 497.32 606.18 500 604.8 C502.68 603.42 504.08 601.3 504.9 600.6" stroke="#222" stroke-width="0.9" fill="none" stroke-linecap="round" stroke-linejoin="round"/><path d="M311.2 416.3 C314.33 417.58 323.87 421.5 330 424 C336.13 426.5 345 430.08 348 431.3" stroke="#111" stroke-width="1.2" fill="none" stroke-linecap="round" stroke-linejoin="round"/><path d="M348.6 413 C348.5 416.05 348.1 428.25 348 431.3" stroke="#111" stroke-width="0.8" fill="none" stroke-linecap="round" stroke-linejoin="round"/><path d="M347.8 226.5 C348.17 226.08 347.97 224.82 350 224 C352.03 223.18 355 222.47 360 221.6 C365 220.73 373.33 219.55 380 218.8 C386.67 218.05 393.33 217.52 400 217.1 C406.67 216.68 411.67 216.42 420 216.3 C428.33 216.18 442.08 216.3 450 216.4 C457.92 216.5 463.75 216.5 467.5 216.9 C471.25 217.3 471.15 217.78 472.5 218.8 C473.85 219.82 475.08 222.3 475.6 223 C475.92 225 476.6 230.5 477.5 235 C478.4 239.5 480.05 245 481 250 C481.95 255 482.57 259.17 483.2 265 C483.83 270.83 484.4 278.33 484.8 285 C485.2 291.67 485.5 297.5 485.6 305 C485.7 312.5 485.71 321.67 485.4 330 C485.09 338.33 484.48 347 483.75 355 C483.02 363 481.86 369.67 481 378 C480.14 386.33 479.2 397.17 478.6 405 C478 412.83 477.62 419.83 477.4 425 C477.18 430.17 477.15 433 477.3 436 C477.45 439 478.13 441.83 478.3 443 C478.58 444.33 479.45 448.17 480 451 C480.55 453.83 480.98 456.83 481.6 460 C482.23 463.17 483.06 466.67 483.75 470 C484.44 473.33 484.96 476.67 485.75 480 C486.54 483.33 487.62 486.67 488.5 490 C489.38 493.33 490.13 496.67 491 500 C491.87 503.33 492.83 506.67 493.7 510 C494.57 513.33 495.4 516.67 496.2 520 C497 523.33 497.78 526.5 498.5 530 C499.22 533.5 499.75 536.67 500.5 541 C501.25 545.33 502.28 550.83 503 556 C503.72 561.17 504.25 566.5 504.8 572 C505.35 577.5 506 584.33 506.3 589 C506.6 593.67 506.55 598.17 506.6 600 C506.08 601.17 505.1 605.03 503.5 607 C501.9 608.97 499.58 610.53 497 611.8 C494.42 613.07 491.17 614.13 488 614.6 C484.83 615.07 480.92 615.12 478 614.6 C475.08 614.08 472.58 612.93 470.5 611.5 C468.42 610.07 466.82 607.92 465.5 606 C464.18 604.08 463.08 601 462.6 600 C461.6 596.67 458.87 588 456.6 580 C454.33 572 451.43 560.83 449 552 C446.57 543.17 444.17 534.67 442 527 C439.83 519.33 438 512.17 436 506 C434 499.83 431.83 496 430 490 C428.17 484 426.33 476.67 425 470 C423.67 463.33 422.58 455.42 422 450 C421.42 444.58 421.87 442 421.5 437.5 C421.13 433 420.88 430.08 419.8 423 C418.72 415.92 416.63 403.83 415 395 C413.37 386.17 411.67 378.67 410 370 C408.33 361.33 405.83 347.5 405 343 C403.58 345.83 399.52 353.83 396.5 360 C393.48 366.17 389.8 373.33 386.9 380 C384 386.67 381.53 393.33 379.1 400 C376.67 406.67 374.32 413.33 372.3 420 C370.28 426.67 368.63 432.5 367 440 C365.37 447.5 363.25 460.83 362.5 465 C362.95 467.67 364.12 475.17 365.2 481 C366.28 486.83 367.65 493.08 369 500 C370.35 506.92 371.92 514.58 373.3 522.5 C374.68 530.42 376.18 540 377.3 547.5 C378.42 555 379.17 561.08 380 567.5 C380.83 573.92 381.8 581.21 382.3 586 C382.8 590.79 382.88 594.54 383 596.25 C382.58 597.29 382.25 600.73 380.5 602.5 C378.75 604.27 375.5 605.88 372.5 606.9 C369.5 607.92 366 608.32 362.5 608.6 C359 608.88 354.45 609.03 351.5 608.6 C348.55 608.17 346.52 607.43 344.8 606 C343.08 604.57 341.8 601 341.2 600 C340.38 596.67 338.17 587.5 336.3 580 C334.43 572.5 332.3 563 330 555 C327.7 547 324.78 539.67 322.5 532 C320.22 524.33 318.38 516 316.3 509 C314.22 502 311.88 496.5 310 490 C308.12 483.5 306.08 476.67 305 470 C303.92 463.33 303.42 455.83 303.5 450 C303.58 444.17 304.75 438.75 305.5 435 C306.25 431.25 307.08 432.5 308 427.5 C308.92 422.5 310.15 410.42 311 405 C311.85 399.58 312.43 398.75 313.1 395 C313.77 391.25 314.37 387.71 315 382.5 C315.63 377.29 316.17 369.58 316.9 363.75 C317.63 357.92 318.78 351.98 319.4 347.5 C320.02 343.02 320.4 338.67 320.6 336.9 L318.1 333.75 C318.32 332.92 318.67 331.04 319.4 328.75 C320.13 326.46 321.36 322.92 322.5 320 C323.64 317.08 325.62 312.71 326.25 311.25 C326.56 310.62 327.43 309.88 328.1 307.5 C328.78 305.12 329.72 300.08 330.3 297 C330.88 293.92 331.12 291.83 331.6 289 C332.08 286.17 332.53 283.42 333.2 280 C333.87 276.58 334.78 272.45 335.6 268.5 C336.42 264.55 337.23 259.95 338.1 256.3 C338.97 252.65 339.63 249.53 340.8 246.6 C341.97 243.67 344.02 241.18 345.1 238.75 C346.18 236.32 346.82 234.04 347.3 232 C347.78 229.96 347.88 227.42 348 226.5 Z" stroke="#111" stroke-width="1.55" fill="none" stroke-linejoin="round" stroke-linecap="round"/><path d="M348.1 236.3 C348.1 234.63 347.43 232.67 346.3 231.3 C345.17 229.93 343.18 228.42 341.3 228.1 C339.42 227.78 337.08 228.45 335 229.4 C332.92 230.35 330.67 232.23 328.8 233.8 C326.93 235.37 325.23 236.93 323.8 238.8 C322.37 240.67 321.03 242.63 320.2 245 C319.37 247.37 319.03 250.08 318.8 253 C318.57 255.92 318.5 259.5 318.8 262.5 C319.1 265.5 319.67 268.25 320.6 271 C321.53 273.75 323.35 279 324.4 279 C325.45 279 325.75 274.17 326.9 271 C328.05 267.83 329.73 263.28 331.3 260 C332.87 256.72 334.63 253.58 336.3 251.3 C337.97 249.02 339.63 247.97 341.3 246.3 C342.97 244.63 345.17 242.97 346.3 241.3 C347.43 239.63 348.1 237.97 348.1 236.3 Z" fill="#c7cbd3"/><path d="M471 229 C471.08 227 472.42 225.62 473.5 224.5 C474.58 223.38 476 222.73 477.5 222.3 C479 221.87 480.42 221.62 482.5 221.9 C484.58 222.18 487.75 222.65 490 224 C492.25 225.35 494.33 227.67 496 230 C497.67 232.33 499.02 234.67 500 238 C500.98 241.33 501.77 246.67 501.9 250 C502.03 253.33 501.37 255.67 500.8 258 C500.23 260.33 499.38 261.92 498.5 264 C497.62 266.08 496.5 268.42 495.5 270.5 C494.5 272.58 493.42 276.58 492.5 276.5 C491.58 276.42 490.83 272.33 490 270 C489.17 267.67 488.33 265.17 487.5 262.5 C486.67 259.83 485.83 256.5 485 254 C484.17 251.5 483.75 249.67 482.5 247.5 C481.25 245.33 479.08 242.83 477.5 241 C475.92 239.17 474.08 238.5 473 236.5 C471.92 234.5 470.92 231 471 229 Z" fill="#c7cbd3"/><path d="M318.8 424.4 C320.97 424.38 323.92 424.6 326 425.2 C328.08 425.8 329.83 426.15 331.3 428 C332.77 429.85 334.28 433.25 334.8 436.3 C335.32 439.35 335.1 442.85 334.4 446.3 C333.7 449.75 331.5 453.47 330.6 457 C329.7 460.53 329.1 463.87 329 467.5 C328.9 471.13 329.43 474.38 330 478.8 C330.57 483.22 332.07 489.55 332.4 494 C332.73 498.45 332.6 502.63 332 505.5 C331.4 508.37 330.38 510.22 328.8 511.2 C327.22 512.18 324.72 512.27 322.5 511.4 C320.28 510.53 317.58 508.4 315.5 506 C313.42 503.6 311.53 500 310 497 C308.47 494 307.33 491.5 306.3 488 C305.27 484.5 304.55 480.33 303.8 476 C303.05 471.67 302.38 466.33 301.8 462 C301.22 457.67 300.43 453.67 300.3 450 C300.17 446.33 300.38 442.92 301 440 C301.62 437.08 302.83 434.45 304 432.5 C305.17 430.55 306.5 429.5 308 428.3 C309.5 427.1 311.2 425.95 313 425.3 C314.8 424.65 316.63 424.42 318.8 424.4 Z" fill="#c7cbd3"/><path d="M442.5 418.2 C445.47 418.07 449.62 418.73 452.2 420.3 C454.78 421.87 456.63 425.03 458 427.6 C459.37 430.17 460.13 432.45 460.4 435.7 C460.67 438.95 460.17 444.05 459.6 447.1 C459.03 450.15 457.82 451.83 457 454 C456.18 456.17 455.2 458.1 454.7 460.1 C454.2 462.1 453.87 463.83 454 466 C454.13 468.17 454.43 469.75 455.5 473.1 C456.57 476.45 459.18 482.03 460.4 486.1 C461.62 490.17 462.27 493.98 462.8 497.5 C463.33 501.02 463.73 504.22 463.6 507.2 C463.47 510.18 463.08 513.37 462 515.4 C460.92 517.43 459 518.87 457.1 519.4 C455.2 519.93 453.03 519.55 450.6 518.6 C448.17 517.65 444.93 515.87 442.5 513.7 C440.07 511.53 437.9 508.85 436 505.6 C434.1 502.35 432.73 498.8 431.1 494.2 C429.48 489.6 427.6 482.87 426.25 478 C424.9 473.13 423.88 469.33 423 465 C422.12 460.67 421.27 455.8 421 452 C420.73 448.2 420.93 445.18 421.4 442.2 C421.87 439.22 422.72 436.53 423.8 434.1 C424.88 431.67 426.13 429.77 427.9 427.6 C429.67 425.43 431.97 422.67 434.4 421.1 C436.83 419.53 439.53 418.33 442.5 418.2 Z" fill="#c7cbd3"/><path d="M302 456 C302.17 451.83 302.23 448.17 303 445 C303.77 441.83 305.1 439 306.6 437 C308.1 435 309.93 433.75 312 433 C314.07 432.25 317 432 319 432.5 C321 433 322.73 434.42 324 436 C325.27 437.58 326.22 440 326.6 442 C326.98 444 326.65 445.67 326.3 448 C325.95 450.33 325.13 453.33 324.5 456 C323.87 458.67 322.75 461.17 322.5 464 C322.25 466.83 322.58 469.5 323 473 C323.42 476.5 324.3 481 325 485 C325.7 489 326.95 493.33 327.2 497 C327.45 500.67 328.03 504.83 326.5 507 C324.97 509.17 320.75 510.83 318 510 C315.25 509.17 312.17 505.67 310 502 C307.83 498.33 306.33 493.33 305 488 C303.67 482.67 302.5 475.33 302 470 C301.5 464.67 301.83 460.17 302 456 Z" fill="#b3b8c2" clip-path="url(#cLK)"/><path d="M305.5 450 C306.75 447.5 308.67 446.92 310 447 C311.33 447.08 312.8 448.67 313.5 450.5 C314.2 452.33 314.22 455.25 314.2 458 C314.18 460.75 313.6 463 313.4 467 C313.2 471 312.83 477.33 313 482 C313.17 486.67 314.07 491.33 314.4 495 C314.73 498.67 315.4 502.17 315 504 C314.6 505.83 313.5 507.33 312 506 C310.5 504.67 307.5 500.33 306 496 C304.5 491.67 303.58 485.67 303 480 C302.42 474.33 302.08 467 302.5 462 C302.92 457 304.25 452.5 305.5 450 Z" fill="#a9aeb9" clip-path="url(#cLK)"/><path d="M426.9 435 C428.57 431.33 430.1 431.03 432.5 430 C434.9 428.97 438.8 428.58 441.3 428.8 C443.8 429.02 445.83 429.43 447.5 431.3 C449.17 433.17 450.67 436.67 451.3 440 C451.93 443.33 451.52 447.55 451.3 451.3 C451.08 455.05 450.63 459.22 450 462.5 C449.37 465.78 447.7 467.92 447.5 471 C447.3 474.08 447.97 477.83 448.8 481 C449.63 484.17 451.25 486.83 452.5 490 C453.75 493.17 455.47 496.67 456.3 500 C457.13 503.33 457.5 507.5 457.5 510 C457.5 512.5 457.88 513.67 456.3 515 C454.72 516.33 450.72 518.83 448 518 C445.28 517.17 442.67 514 440 510 C437.33 506 434.33 500.33 432 494 C429.67 487.67 427.58 479 426 472 C424.42 465 422.35 458.17 422.5 452 C422.65 445.83 425.23 438.67 426.9 435 Z" fill="#b3b8c2" clip-path="url(#cRK)"/><path d="M425 456 C425.63 452.47 427.55 450.22 428.8 448.8 C430.05 447.38 431.15 446.88 432.5 447.5 C433.85 448.12 436.07 449.58 436.9 452.5 C437.73 455.42 437.4 460.83 437.5 465 C437.6 469.17 437.08 473.33 437.5 477.5 C437.92 481.67 439.27 486.25 440 490 C440.73 493.75 441.68 497.5 441.9 500 C442.12 502.5 442.28 504.67 441.3 505 C440.32 505.33 437.88 505 436 502 C434.12 499 431.83 492.33 430 487 C428.17 481.67 425.83 475.17 425 470 C424.17 464.83 424.37 459.53 425 456 Z" fill="#a9aeb9" clip-path="url(#cRK)"/><path d="M322.4 269.2 C321.42 267.2 320 264.53 319.6 262 C319.2 259.47 319.73 256.67 320 254 C320.27 251.33 320.4 248.27 321.2 246 C322 243.73 323.27 242.2 324.8 240.4 C326.33 238.6 328.53 236.4 330.4 235.2 C332.27 234 334 233.2 336 233.2 C338 233.2 341.07 234.07 342.4 235.2 C343.73 236.33 344.73 238.2 344 240 C343.27 241.8 340 243.83 338 246 C336 248.17 333.67 250.33 332 253 C330.33 255.67 329.08 258.5 328 262 C326.92 265.5 326.43 272.8 325.5 274 C324.57 275.2 323.38 271.2 322.4 269.2 Z" fill="#b3b8c2" clip-path="url(#cLH)"/><path d="M478.8 230.8 C480.22 229.47 483.73 228.2 486 228 C488.27 227.8 490.67 228.67 492.4 229.6 C494.13 230.53 495.33 231.87 496.4 233.6 C497.47 235.33 498.27 237.6 498.8 240 C499.33 242.4 499.6 245.33 499.6 248 C499.6 250.67 499.33 253.6 498.8 256 C498.27 258.4 497.27 260.53 496.4 262.4 C495.53 264.27 494.67 267.27 493.6 267.2 C492.53 267.13 491.27 264.53 490 262 C488.73 259.47 487.5 255.17 486 252 C484.5 248.83 482.42 245.67 481 243 C479.58 240.33 477.87 238.03 477.5 236 C477.13 233.97 477.38 232.13 478.8 230.8 Z" fill="#b3b8c2" clip-path="url(#cRH)"/><path d="M430 419 L451 419 L477.4 415.6 L477.3 434.5 L456 437.2 L423 441 Z" fill="#8f95a1" fill-opacity="0.35" clip-path="url(#cRK)"/><g clip-path="url(#cRK)" stroke="#5f6470" stroke-width="0.55" fill="none" ><path d="M418 425.2 L480 415.9"/><path d="M418 426.9 L480 417.87"/><path d="M418 428.6 L480 419.83"/><path d="M418 430.3 L480 421.8"/><path d="M418 432 L480 423.77"/><path d="M418 433.7 L480 425.73"/><path d="M418 435.4 L480 427.7"/><path d="M418 437.1 L480 429.67"/><path d="M418 438.8 L480 431.63"/><path d="M418 440.5 L480 433.6"/></g><path d="M436 503.5 L462 501.5 L485.7 498.8 L486.4 517 L462 519.3 L446 519 Z" fill="#8f95a1" fill-opacity="0.3" clip-path="url(#cRK)"/><g clip-path="url(#cRK)" stroke="#5f6470" stroke-width="0.55" fill="none" ><path d="M430 504.5 L492 498.5"/><path d="M430 506.17 L492 500.56"/><path d="M430 507.83 L492 502.61"/><path d="M430 509.5 L492 504.67"/><path d="M430 511.17 L492 506.72"/><path d="M430 512.83 L492 508.78"/><path d="M430 514.5 L492 510.83"/><path d="M430 516.17 L492 512.89"/><path d="M430 517.83 L492 514.94"/><path d="M430 519.5 L492 517"/></g><path d="M306 490 L332 486 L341 484 L341.5 503 L332 505 L306 507 Z" fill="#8f95a1" fill-opacity="0.3" clip-path="url(#cLK)"/><g clip-path="url(#cLK)" stroke="#5f6470" stroke-width="0.55" fill="none" ><path d="M305 491.1 L345 483.1"/><path d="M305 493.04 L345 485.54"/><path d="M305 494.98 L345 487.98"/><path d="M305 496.91 L345 490.41"/><path d="M305 498.85 L345 492.85"/><path d="M305 500.79 L345 495.29"/><path d="M305 502.73 L345 497.73"/><path d="M305 504.66 L345 500.16"/><path d="M305 506.6 L345 502.6"/></g><path d="M308 428 C306.5 438 305.5 446 305.2 455" stroke="#7d828c" stroke-width="0.8" fill="none"/><path d="M421.8 436 C422.5 442 423 446 423.5 450" stroke="#7d828c" stroke-width="0.8" fill="none"/><path d="M470 229 C471 224 473 221.5 475 221 C477 226 478 233 478.6 241 C475 238.5 472 236 470.5 233 Z" fill="#878c97" clip-path="url(#cRH)"/><path d="M474.3 220.8 C475.8 226 476.6 233 477.4 240.5" stroke="#3a3d44" stroke-width="0.9" fill="none" clip-path="url(#cRH)"/><path d="M347.3 232 C346.5 236 344.5 240 341.2 245.5" stroke="#555a64" stroke-width="0.9" fill="none" clip-path="url(#cLH)"/><path d="M302 456 C302.17 454.17 302.23 448.17 303 445 C303.77 441.83 305.1 439 306.6 437 C308.1 435 309.93 433.75 312 433 C314.07 432.25 317 432 319 432.5 C321 433 322.73 434.42 324 436 C325.27 437.58 326.22 440 326.6 442 C326.98 444 326.65 445.67 326.3 448 C325.95 450.33 325.13 453.33 324.5 456 C323.87 458.67 322.75 461.17 322.5 464 C322.25 466.83 322.58 469.5 323 473 C323.42 476.5 324.3 481 325 485 C325.7 489 326.95 493.33 327.2 497 C327.45 500.67 326.62 505.33 326.5 507" stroke="#4a4d55" stroke-width="0.9" fill="none" stroke-dasharray="2.6 1.8"/><path d="M305.5 450 C306.25 449.5 308.67 446.92 310 447 C311.33 447.08 312.8 448.67 313.5 450.5 C314.2 452.33 314.22 455.25 314.2 458 C314.18 460.75 313.6 463 313.4 467 C313.2 471 312.83 477.33 313 482 C313.17 486.67 314.07 491.33 314.4 495 C314.73 498.67 314.9 502.5 315 504" stroke="#4a4d55" stroke-width="0.9" fill="none" stroke-dasharray="2.6 1.8"/><path d="M426.9 435 C427.83 434.17 430.1 431.03 432.5 430 C434.9 428.97 438.8 428.58 441.3 428.8 C443.8 429.02 445.83 429.43 447.5 431.3 C449.17 433.17 450.67 436.67 451.3 440 C451.93 443.33 451.52 447.55 451.3 451.3 C451.08 455.05 450.63 459.22 450 462.5 C449.37 465.78 447.7 467.92 447.5 471 C447.3 474.08 447.97 477.83 448.8 481 C449.63 484.17 451.25 486.83 452.5 490 C453.75 493.17 455.47 496.67 456.3 500 C457.13 503.33 457.5 507.5 457.5 510 C457.5 512.5 456.5 514.17 456.3 515" stroke="#4a4d55" stroke-width="0.9" fill="none" stroke-dasharray="2.6 1.8"/><path d="M425 456 C425.63 454.8 427.55 450.22 428.8 448.8 C430.05 447.38 431.15 446.88 432.5 447.5 C433.85 448.12 436.07 449.58 436.9 452.5 C437.73 455.42 437.4 460.83 437.5 465 C437.6 469.17 437.08 473.33 437.5 477.5 C437.92 481.67 439.27 486.25 440 490 C440.73 493.75 441.68 497.5 441.9 500 C442.12 502.5 441.4 504.17 441.3 505" stroke="#4a4d55" stroke-width="0.9" fill="none" stroke-dasharray="2.6 1.8"/><path d="M322.4 269.2 C321.93 268 320 264.53 319.6 262 C319.2 259.47 319.73 256.67 320 254 C320.27 251.33 320.4 248.27 321.2 246 C322 243.73 323.27 242.2 324.8 240.4 C326.33 238.6 328.53 236.4 330.4 235.2 C332.27 234 334 233.2 336 233.2 C338 233.2 341.33 234.87 342.4 235.2" stroke="#4a4d55" stroke-width="0.9" fill="none" stroke-dasharray="2.6 1.8"/><path d="M325.6 270 C325.47 268.4 324.73 263.33 324.8 260.4 C324.87 257.47 325.2 254.93 326 252.4 C326.8 249.87 328.2 247 329.6 245.2 C331 243.4 332.67 242.2 334.4 241.6 C336.13 241 338.67 241.4 340 241.6 C341.33 241.8 342 242.6 342.4 242.8" stroke="#4a4d55" stroke-width="0.9" fill="none" stroke-dasharray="2.6 1.8"/><path d="M478.8 230.8 C480 230.33 483.73 228.2 486 228 C488.27 227.8 490.67 228.67 492.4 229.6 C494.13 230.53 495.33 231.87 496.4 233.6 C497.47 235.33 498.27 237.6 498.8 240 C499.33 242.4 499.6 245.33 499.6 248 C499.6 250.67 499.33 253.6 498.8 256 C498.27 258.4 497.27 260.53 496.4 262.4 C495.53 264.27 494.07 266.4 493.6 267.2" stroke="#4a4d55" stroke-width="0.9" fill="none" stroke-dasharray="2.6 1.8"/><path d="M484.4 239.2 C484.93 238.67 486.27 236.53 487.6 236 C488.93 235.47 491.07 235.47 492.4 236 C493.73 236.53 494.8 237.87 495.6 239.2 C496.4 240.53 497 242.27 497.2 244 C497.4 245.73 497.2 247.6 496.8 249.6 C496.4 251.6 495.4 254.43 494.8 256 C494.2 257.57 493.73 259.67 493.2 259 C492.67 258.33 492.4 254.1 491.6 252 C490.8 249.9 489.5 248.15 488.4 246.4 C487.3 244.65 485.57 242.32 485 241.5" stroke="#4a4d55" stroke-width="0.9" fill="none" stroke-dasharray="2.6 1.8"/><path d="M465.6 307.5 L473.3 307.5 L466.4 392 Q466.2 393 465 393 L459.6 393 Q458.4 393 458.5 392 Z" fill="#fff" stroke="#222" stroke-width="0.8"/><rect x="466.3" y="300" width="7.4" height="7.3" rx="1.2" fill="#fff" stroke="#222" stroke-width="0.8"/><path d="M468 310 C470.6 330 468.2 360 462.2 378.5 C460.6 358 463 330 468 310 Z" fill="#6f778a" stroke="#1e2128" stroke-width="0.8"/><path d="M467.4 320 C467.4 336 465.6 356 462.8 370" stroke="#9aa2b3" stroke-width="0.8" fill="none"/><rect x="460.4" y="378" width="4" height="11" rx="1.2" fill="#fff" stroke="#222" stroke-width="0.7"/><circle cx="462.4" cy="382" r="1.2" fill="none" stroke="#222" stroke-width="0.6"/><g mask="url(#mWind)"><path d="M480 311 C481.67 310.43 486.67 309.43 490 307.6 C493.33 305.77 497 302.93 500 300 C503 297.07 505.57 292.23 508 290 C510.43 287.77 513.5 287.17 514.6 286.6" stroke="#76808f" stroke-width="1.35" fill="none" stroke-dasharray="3.6 2.8" stroke-linecap="round"/><path d="M478 321 C479.88 320.43 485.63 319.43 489.3 317.6 C492.97 315.77 496.88 312.6 500 310 C503.12 307.4 505.57 303.85 508 302 C510.43 300.15 513.5 299.42 514.6 298.9" stroke="#76808f" stroke-width="1.35" fill="none" stroke-dasharray="3.6 2.8" stroke-linecap="round"/><path d="M476 331 C478.17 330.47 485 329.47 489 327.8 C493 326.13 496.83 323.3 500 321 C503.17 318.7 505.57 315.5 508 314 C510.43 312.5 513.5 312.33 514.6 312" stroke="#76808f" stroke-width="1.35" fill="none" stroke-dasharray="3.6 2.8" stroke-linecap="round"/><path d="M474 342 C476.25 341.5 483.5 340.5 487.5 339 C491.5 337.5 494.92 335 498 333 C501.08 331 503.33 328.33 506 327 C508.67 325.67 512.67 325.33 514 325" stroke="#76808f" stroke-width="1.35" fill="none" stroke-dasharray="3.6 2.8" stroke-linecap="round"/><path d="M472 353 C474.33 352.58 482 351.83 486 350.5 C490 349.17 493 346.75 496 345 C499 343.25 501.33 341.17 504 340 C506.67 338.83 510.67 338.33 512 338" stroke="#76808f" stroke-width="1.35" fill="none" stroke-dasharray="3.6 2.8" stroke-linecap="round"/><path d="M470 363.5 C472.33 363.08 480 362.25 484 361 C488 359.75 491 357.5 494 356 C497 354.5 499.33 352.77 502 352 C504.67 351.23 508.67 351.5 510 351.4" stroke="#76808f" stroke-width="1.35" fill="none" stroke-dasharray="3.6 2.8" stroke-linecap="round"/><path d="M466 373.5 C468 373.17 474 372.42 478 371.5 C482 370.58 486.67 368.92 490 368 C493.33 367.08 495.33 366.43 498 366 C500.67 365.57 504.67 365.5 506 365.4" stroke="#76808f" stroke-width="1.35" fill="none" stroke-dasharray="3.6 2.8" stroke-linecap="round"/><path d="M462 383 C464 382.83 470 382.58 474 382 C478 381.42 482.33 380.17 486 379.5 C489.67 378.83 492.83 378.17 496 378 C499.17 377.83 503.5 378.42 505 378.5" stroke="#76808f" stroke-width="1.35" fill="none" stroke-dasharray="3.6 2.8" stroke-linecap="round"/></g><path d="M318.8 424.4 C320.97 424.38 323.92 424.6 326 425.2 C328.08 425.8 329.83 426.15 331.3 428 C332.77 429.85 334.28 433.25 334.8 436.3 C335.32 439.35 335.1 442.85 334.4 446.3 C333.7 449.75 331.5 453.47 330.6 457 C329.7 460.53 329.1 463.87 329 467.5 C328.9 471.13 329.43 474.38 330 478.8 C330.57 483.22 332.07 489.55 332.4 494 C332.73 498.45 332.6 502.63 332 505.5 C331.4 508.37 330.38 510.22 328.8 511.2 C327.22 512.18 324.72 512.27 322.5 511.4 C320.28 510.53 317.58 508.4 315.5 506 C313.42 503.6 311.53 500 310 497 C308.47 494 307.33 491.5 306.3 488 C305.27 484.5 304.55 480.33 303.8 476 C303.05 471.67 302.38 466.33 301.8 462 C301.22 457.67 300.43 453.67 300.3 450 C300.17 446.33 300.38 442.92 301 440 C301.62 437.08 302.83 434.45 304 432.5 C305.17 430.55 306.5 429.5 308 428.3 C309.5 427.1 311.2 425.95 313 425.3 C314.8 424.65 316.63 424.42 318.8 424.4 Z" stroke="#111" stroke-width="1.5" fill="none" stroke-linejoin="round" stroke-linecap="round"/><path d="M442.5 418.2 C445.47 418.07 449.62 418.73 452.2 420.3 C454.78 421.87 456.63 425.03 458 427.6 C459.37 430.17 460.13 432.45 460.4 435.7 C460.67 438.95 460.17 444.05 459.6 447.1 C459.03 450.15 457.82 451.83 457 454 C456.18 456.17 455.2 458.1 454.7 460.1 C454.2 462.1 453.87 463.83 454 466 C454.13 468.17 454.43 469.75 455.5 473.1 C456.57 476.45 459.18 482.03 460.4 486.1 C461.62 490.17 462.27 493.98 462.8 497.5 C463.33 501.02 463.73 504.22 463.6 507.2 C463.47 510.18 463.08 513.37 462 515.4 C460.92 517.43 459 518.87 457.1 519.4 C455.2 519.93 453.03 519.55 450.6 518.6 C448.17 517.65 444.93 515.87 442.5 513.7 C440.07 511.53 437.9 508.85 436 505.6 C434.1 502.35 432.73 498.8 431.1 494.2 C429.48 489.6 427.6 482.87 426.25 478 C424.9 473.13 423.88 469.33 423 465 C422.12 460.67 421.27 455.8 421 452 C420.73 448.2 420.93 445.18 421.4 442.2 C421.87 439.22 422.72 436.53 423.8 434.1 C424.88 431.67 426.13 429.77 427.9 427.6 C429.67 425.43 431.97 422.67 434.4 421.1 C436.83 419.53 439.53 418.33 442.5 418.2 Z" stroke="#111" stroke-width="1.5" fill="none" stroke-linejoin="round" stroke-linecap="round"/><path d="M348.1 236.3 C348.1 234.63 347.43 232.67 346.3 231.3 C345.17 229.93 343.18 228.42 341.3 228.1 C339.42 227.78 337.08 228.45 335 229.4 C332.92 230.35 330.67 232.23 328.8 233.8 C326.93 235.37 325.23 236.93 323.8 238.8 C322.37 240.67 321.03 242.63 320.2 245 C319.37 247.37 319.03 250.08 318.8 253 C318.57 255.92 318.5 259.5 318.8 262.5 C319.1 265.5 319.67 268.25 320.6 271 C321.53 273.75 323.35 279 324.4 279 C325.45 279 325.75 274.17 326.9 271 C328.05 267.83 329.73 263.28 331.3 260 C332.87 256.72 334.63 253.58 336.3 251.3 C337.97 249.02 339.63 247.97 341.3 246.3 C342.97 244.63 345.17 242.97 346.3 241.3 C347.43 239.63 348.1 237.97 348.1 236.3 Z" stroke="#1a1a1a" stroke-width="1.05" fill="none" stroke-linejoin="round"/><path d="M471 229 C471.08 227 472.42 225.62 473.5 224.5 C474.58 223.38 476 222.73 477.5 222.3 C479 221.87 480.42 221.62 482.5 221.9 C484.58 222.18 487.75 222.65 490 224 C492.25 225.35 494.33 227.67 496 230 C497.67 232.33 499.02 234.67 500 238 C500.98 241.33 501.77 246.67 501.9 250 C502.03 253.33 501.37 255.67 500.8 258 C500.23 260.33 499.38 261.92 498.5 264 C497.62 266.08 496.5 268.42 495.5 270.5 C494.5 272.58 493.42 276.58 492.5 276.5 C491.58 276.42 490.83 272.33 490 270 C489.17 267.67 488.33 265.17 487.5 262.5 C486.67 259.83 485.83 256.5 485 254 C484.17 251.5 483.75 249.67 482.5 247.5 C481.25 245.33 479.08 242.83 477.5 241 C475.92 239.17 474.08 238.5 473 236.5 C471.92 234.5 470.92 231 471 229 Z" stroke="#1a1a1a" stroke-width="1.05" fill="none" stroke-linejoin="round"/>
  <!-- callouts -->
  <path d="M216.6 233.4V475.4A8 8 0 0 0 224.6 483.4H285" stroke="#000" stroke-width="2" fill="none"/>
  <path d="M536 342H557A8 8 0 0 1 565.1 350V625.7" stroke="#000" stroke-width="2" fill="none"/>
</svg>
<div class="t h" id="h1" style="left:86px;top:81px;">Pro-Shield System</div>
<div class="t b" id="b1" style="left:86px;top:118px;">
<div style="letter-spacing:0.173px">Ochraniacze SAS-TEC kolan level</div>
<div style="letter-spacing:0.43px">2 i bioder level 1 można wyjąć</div>
<div style="letter-spacing:0.488px">bez zdejmowania spodni.</div>
<div style="letter-spacing:0.485px">W newralgicznych miejscach</div>
<div style="letter-spacing:0.416px">jeansy są podszyte materiałem</div>
<div style="letter-spacing:0.758px">aramidowym.</div>
</div>
<div class="t h" id="h2" style="left:472px;top:640px;letter-spacing:0.31px">Ultra-flow System</div>
<div class="t b" id="b2" style="left:472px;top:677px;">
<div style="letter-spacing:0.49px">Jeansy mają kanały wentylacyjne</div>
<div style="letter-spacing:0.413px">umieszczone z przodu ud,</div>
<div style="letter-spacing:0.455px">zapinane na zamki.</div>
</div>
</body></html>
